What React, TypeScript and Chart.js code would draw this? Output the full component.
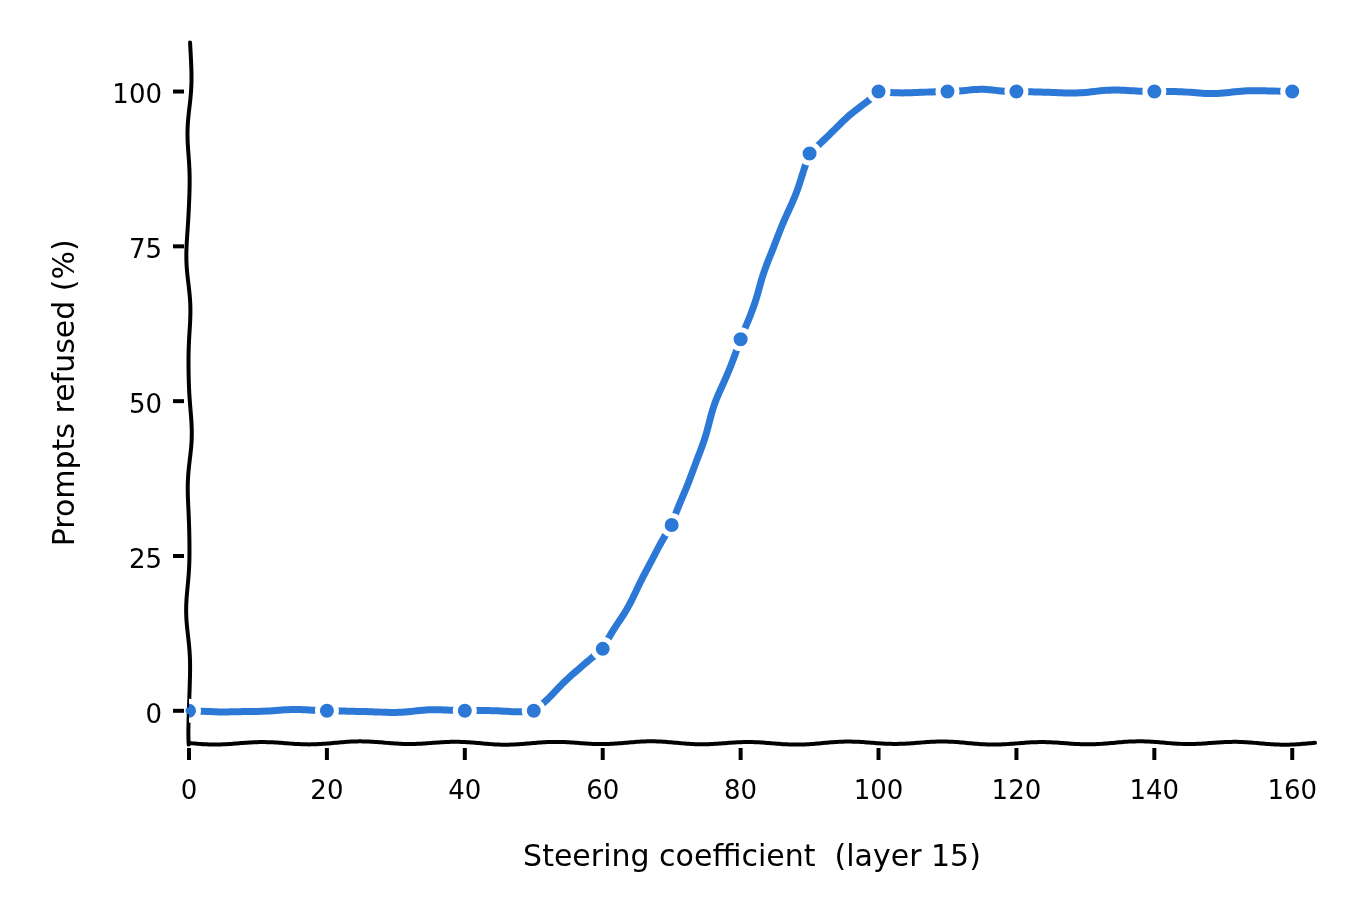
import { useEffect, useRef } from 'react';
import { Chart, registerables } from 'chart.js';

Chart.register(...registerables);

// Data
const coefficients = [0, 20, 40, 50, 60, 70, 80, 90, 100, 110, 120, 140, 160];
const refusedPct = [0, 0, 0, 0, 10, 30, 60, 90, 100, 100, 100, 100, 100];
const xTicks = [0, 20, 40, 60, 80, 100, 120, 140, 160];
const yTicks = [0, 25, 50, 75, 100];

const BLUE = '#2b78d6';
const FONT = '"DejaVu Sans", sans-serif';

// Hand-drawn looking axes, tick marks and data line
const sketchAxes = {
  id: 'sketchAxes',
  beforeDatasetsDraw: (chart: any) => {
    const { ctx, chartArea } = chart;
    const { left, right, bottom, top } = chartArea;
    const xs = chart.scales.x;
    const ys = chart.scales.y;
    ctx.save();
    ctx.strokeStyle = '#000';
    ctx.lineWidth = 4;
    ctx.lineCap = 'round';
    ctx.lineJoin = 'round';

    // x axis
    ctx.beginPath();
    for (let x = left; x <= right; x += 2) {
      const y = bottom + 1.3 * Math.sin((x - left) / 15.5) + 0.4 * Math.sin((x - left) / 41);
      if (x === left) ctx.moveTo(x, y);
      else ctx.lineTo(x, y);
    }
    ctx.stroke();

    // y axis
    ctx.beginPath();
    for (let y = top; y <= bottom + 2; y += 2) {
      const t = y - top;
      const x = left + 1.5 * Math.sin(t / 19) + 1.1 * Math.sin(t / 57 + 1.3) - 0.3 * Math.sin(t / 11);
      if (y === top) ctx.moveTo(x, y);
      else ctx.lineTo(x, y);
    }
    ctx.stroke();

    ctx.lineCap = 'butt';
    // x tick marks
    xTicks.forEach((v) => {
      const px = xs.getPixelForValue(v);
      ctx.beginPath();
      ctx.moveTo(px, bottom + 5);
      ctx.lineTo(px, bottom + 17);
      ctx.stroke();
    });
    // y tick marks
    yTicks.forEach((v) => {
      const py = ys.getPixelForValue(v);
      ctx.beginPath();
      ctx.moveTo(left - 16, py);
      ctx.lineTo(left - 5, py);
      ctx.stroke();
    });

    // wobbly data line through the points the library placed
    const pts = chart.getDatasetMeta(0).data;
    ctx.strokeStyle = BLUE;
    ctx.lineWidth = 7;
    ctx.lineCap = 'round';
    ctx.beginPath();
    let s = 0;
    for (let i = 0; i < pts.length - 1; i++) {
      const a = pts[i];
      const b = pts[i + 1];
      const dx = b.x - a.x;
      const dy = b.y - a.y;
      const len = Math.hypot(dx, dy);
      const nx = -dy / len;
      const ny = dx / len;
      const steps = Math.max(2, Math.ceil(len / 3));
      for (let k = 0; k <= steps; k++) {
        const f = k / steps;
        const env = Math.sin(Math.PI * f);
        const w = env * (1.7 * Math.sin((s + f * len) / 24) + 0.5 * Math.sin((s + f * len) / 10.5));
        const x = a.x + dx * f + nx * w;
        const y = a.y + dy * f + ny * w;
        if (i === 0 && k === 0) ctx.moveTo(x, y);
        else ctx.lineTo(x, y);
      }
      s += len;
    }
    ctx.stroke();
    ctx.restore();
  }
};

const App = () => {
  const chartRef = useRef<HTMLCanvasElement>(null);
  const chartInstance = useRef<Chart | null>(null);

  useEffect(() => {
    if (!chartRef.current) return;
    if (chartInstance.current) chartInstance.current.destroy();
    const ctx = chartRef.current.getContext('2d');
    if (!ctx) return;

    chartInstance.current = new Chart(ctx, {
      type: 'line',
      plugins: [sketchAxes],
      data: {
        datasets: [
          {
            label: 'Prompts refused',
            data: coefficients.map((c, i) => ({ x: c, y: refusedPct[i] })),
            showLine: false, // line drawn by sketchAxes plugin
            borderColor: BLUE,
            backgroundColor: BLUE,
            pointRadius: 9.5,
            pointBorderWidth: 5,
            pointBorderColor: '#ffffff',
            pointBackgroundColor: BLUE,
          },
        ],
      },
      options: {
        animation: false,
        responsive: true,
        maintainAspectRatio: false,
        layout: { padding: { top: 42, right: 45, left: 0, bottom: 0 } },
        plugins: {
          legend: { display: false },
          tooltip: { enabled: false },
        },
        scales: {
          x: {
            type: 'linear',
            min: 0,
            max: 163.3,
            afterFit: (scale: any) => { scale.height = 177; },
            afterBuildTicks: (scale: any) => { scale.ticks = xTicks.map((v) => ({ value: v })); },
            grid: { display: false, drawTicks: false },
            border: { display: false },
            ticks: {
              padding: 34,
              color: '#000',
              maxRotation: 0,
              font: { family: FONT, size: 26 },
            },
            title: {
              display: true,
              text: 'Steering coefficient  (layer 15)',
              color: '#000',
              font: { family: FONT, size: 30 },
              padding: { top: 0, bottom: 44 },
            },
          },
          y: {
            type: 'linear',
            min: -5.2,
            max: 107.9,
            afterFit: (scale: any) => { scale.width = 189; },
            afterBuildTicks: (scale: any) => { scale.ticks = yTicks.map((v) => ({ value: v })); },
            grid: { display: false, drawTicks: false },
            border: { display: false },
            ticks: {
              padding: 27,
              labelOffset: 5,
              color: '#000',
              font: { family: FONT, size: 26 },
            },
            title: {
              display: true,
              text: 'Prompts refused (%)',
              color: '#000',
              font: { family: FONT, size: 30 },
              padding: { top: 48, bottom: 0 },
            },
          },
        },
      },
    });

    return () => {
      if (chartInstance.current) {
        chartInstance.current.destroy();
        chartInstance.current = null;
      }
    };
  }, []);

  return (
    <div style={{ position: 'absolute', left: 0, top: 0, width: 1360, height: 920, background: '#fff' }}>
      <canvas ref={chartRef}></canvas>
    </div>
  );
};

export default App;
